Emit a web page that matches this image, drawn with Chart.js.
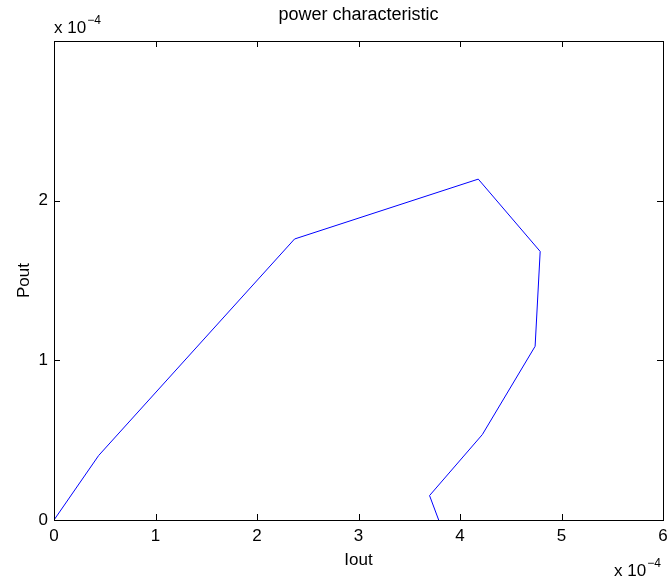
<!DOCTYPE html>
<html>
<head>
<meta charset="utf-8">
<script src="https://cdn.jsdelivr.net/npm/chart.js@4/dist/chart.umd.min.js"></script>
<style>
  html, body { margin: 0; padding: 0; background: #fff; }
  #wrap { width: 671px; height: 579px; }
</style>
</head>
<body>
<div id="wrap"><canvas id="chart" width="671" height="579"></canvas></div>
<script>
// values in units of 1e-4
const iout = [0, 0.44, 2.37, 4.18, 4.79, 4.74, 4.22, 3.70, 3.79];
const pout = [0, 0.404, 1.76, 2.135, 1.682, 1.088, 0.535, 0.153, 0];
const xTicks = [0, 1, 2, 3, 4, 5, 6];
const yTicks = [0, 1, 2];

const FONT = "Liberation Sans, Arial, Helvetica, sans-serif";
const SIZE = 17;

const frame = {
  id: "frame",
  afterDraw(chart) {
    const { ctx, chartArea: a, scales } = chart;
    ctx.save();
    ctx.strokeStyle = "#000";
    ctx.lineWidth = 1;
    ctx.strokeRect(Math.round(a.left) + 0.5, Math.round(a.top) + 0.5,
      Math.round(a.right - a.left), Math.round(a.bottom - a.top));
    ctx.beginPath();
    xTicks.forEach((v) => {
      const x = Math.round(scales.x.getPixelForValue(v)) + 0.5;
      ctx.moveTo(x, a.bottom); ctx.lineTo(x, a.bottom - 6);
      ctx.moveTo(x, a.top); ctx.lineTo(x, a.top + 6);
    });
    yTicks.forEach((v) => {
      const y = Math.round(scales.y.getPixelForValue(v)) + 0.5;
      ctx.moveTo(a.left, y); ctx.lineTo(a.left + 6, y);
      ctx.moveTo(a.right, y); ctx.lineTo(a.right - 6, y);
    });
    ctx.stroke();

    ctx.fillStyle = "#000";
    ctx.textBaseline = "alphabetic";
    ctx.textAlign = "center";
    ctx.font = "18px " + FONT;
    ctx.fillText("power characteristic", (a.left + a.right) / 2, 20);
    ctx.font = SIZE + "px " + FONT;
    ctx.fillText("Iout", (a.left + a.right) / 2, 565);
    ctx.save();
    ctx.translate(29, (a.top + a.bottom) / 2);
    ctx.rotate(-Math.PI / 2);
    ctx.fillText("Pout", 0, 0);
    ctx.restore();

    const exponent = (x, y) => {
      ctx.textAlign = "left";
      ctx.font = SIZE + "px " + FONT;
      ctx.fillText("x 10", x, y);
      const w = ctx.measureText("x 10").width;
      ctx.font = "12px " + FONT;
      ctx.fillText("\u22124", x + w + 1, y - 9);
    };
    exponent(54, 33);
    exponent(614, 576);
    ctx.restore();
  },
};

new Chart(document.getElementById("chart"), {
  type: "scatter",
  data: {
    datasets: [{
      data: iout.map((x, i) => ({ x, y: pout[i] })),
      showLine: true,
      borderColor: "#0000ff",
      borderWidth: 1,
      pointRadius: 0,
      tension: 0,
    }],
  },
  options: {
    responsive: false,
    animation: false,
    devicePixelRatio: 1,
    layout: { padding: { left: 0, top: 41, right: 8, bottom: 0 } },
    plugins: { legend: { display: false }, tooltip: { enabled: false } },
    scales: {
      x: {
        type: "linear",
        min: 0,
        max: 6,
        afterBuildTicks: (s) => { s.ticks = xTicks.map((v) => ({ value: v })); },
        afterFit: (s) => { s.height = 59; s.paddingLeft = 0; s.paddingRight = 0; },
        grid: { display: false, drawTicks: false },
        border: { display: false },
        ticks: { color: "#000", font: { family: FONT, size: SIZE }, padding: 6, maxRotation: 0 },
      },
      y: {
        type: "linear",
        min: 0,
        max: 3,
        afterBuildTicks: (s) => { s.ticks = yTicks.map((v) => ({ value: v })); },
        afterFit: (s) => { s.width = 54; s.paddingTop = 0; s.paddingBottom = 0; },
        grid: { display: false, drawTicks: false },
        border: { display: false },
        ticks: { color: "#000", font: { family: FONT, size: SIZE }, padding: 6 },
      },
    },
  },
  plugins: [frame],
});
</script>
</body>
</html>
